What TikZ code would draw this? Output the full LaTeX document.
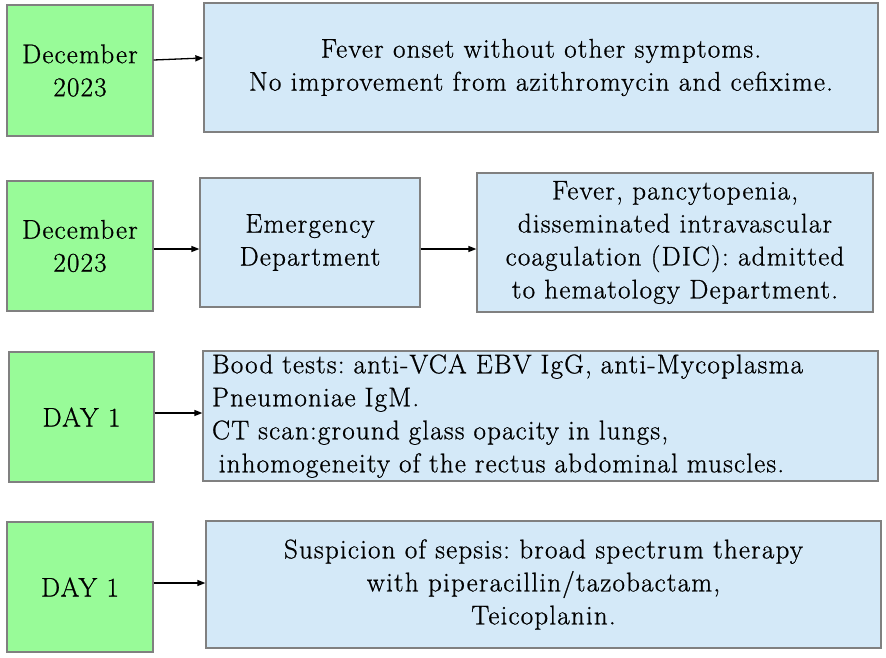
\documentclass[tikz,border=0pt]{standalone}
\usepackage{fontspec}
\setmainfont{Latin Modern Roman}[LetterSpace=4.5, FakeBold=0.8]
\usetikzlibrary{arrows.meta}
\definecolor{gfill}{RGB}{152,251,152}
\definecolor{bfill}{RGB}{212,233,248}
\definecolor{bdraw}{RGB}{128,128,128}
\tikzset{
  box/.style={draw=bdraw, line width=1.3pt, inner sep=0pt, font=\fontsize{27}{33}\selectfont\frenchspacing, align=center},
  gbox/.style={box, fill=gfill},
  bbox/.style={box, fill=bfill},
  arr/.style={line width=1.3pt, -{Triangle[length=8pt,width=6pt]}}
}
\begin{document}
\begin{tikzpicture}[x=1pt,y=-1pt]
\fill[white] (0,0) rectangle (886,658);
\useasboundingbox (0,0) rectangle (886,658);
% row 1
\node[gbox, minimum width=146pt, minimum height=131pt] (g1) at (80,70.5) {December\\2023};
\node[bbox, minimum width=674pt, minimum height=129pt] (b1) at (541,67.5) {Fever onset without other symptoms.\\No improvement from azithromycin and cefixime.};
% row 2
\node[gbox, minimum width=146pt, minimum height=130pt] (g2) at (80,246) {December\\2023};
\node[bbox, minimum width=220pt, minimum height=129pt] (e2) at (310,242.5) {Emergency\\Department};
\node[bbox, minimum width=396pt, minimum height=139pt] (b2) at (675,242.5) {Fever, pancytopenia,\\disseminated intravascular\\coagulation (DIC): admitted\\to hematology Department.};
% row 3
\node[gbox, minimum width=145pt, minimum height=130pt] (g3) at (81.5,417) {DAY 1};
\node[bbox, minimum width=675pt, minimum height=130pt, text width=657pt, align=left] (b3) at (540.5,416) {Bood tests: anti-VCA EBV IgG, anti-Mycoplasma\\Pneumoniae IgM.\\CT scan:ground glass opacity in lungs,\\\hspace*{0.25em}inhomogeneity of the rectus abdominal muscles.};
% row 4
\node[gbox, minimum width=146pt, minimum height=130pt] (g4) at (80,587) {DAY 1};
\node[bbox, minimum width=675pt, minimum height=127pt] (b4) at (543.5,584.5) {Suspicion of sepsis: broad spectrum therapy\\with piperacillin/tazobactam,\\Teicoplanin.};
% arrows
\draw[arr] ([yshift=10.5pt]g1.east) -- ([yshift=9.5pt]b1.west);
\draw[arr] ([yshift=-3pt]g2.east) -- ([yshift=-6.5pt]e2.west);
\draw[arr] ([yshift=-6.5pt]e2.east) -- ([yshift=-6.5pt]b2.west);
\draw[arr] ([yshift=4pt]g3.east) -- ([yshift=3pt]b3.west);
\draw[arr] ([yshift=4pt]g4.east) -- ([yshift=1.5pt]b4.west);
\end{tikzpicture}
\end{document}
